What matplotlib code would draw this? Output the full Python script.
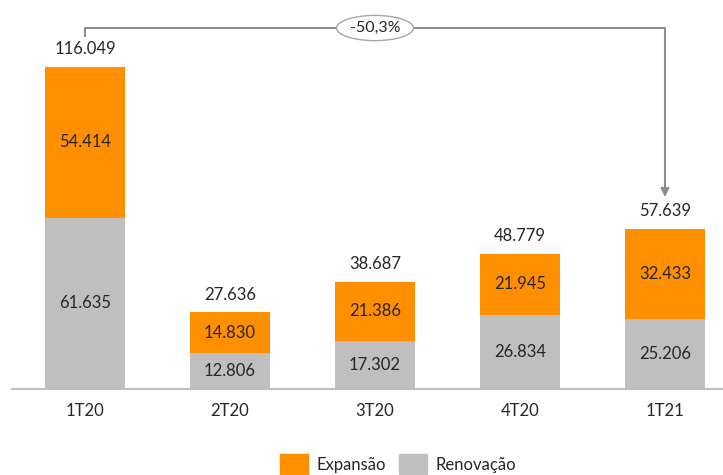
import matplotlib
matplotlib.use("Agg")
import matplotlib.pyplot as plt
from matplotlib.patches import Patch

plt.rcParams['font.family'] = ['Lato', 'DejaVu Sans']

categories = ["1T20", "2T20", "3T20", "4T20", "1T21"]
renovacao = [61.635, 12.806, 17.302, 26.834, 25.206]
expansao = [54.414, 14.830, 21.386, 21.945, 32.433]
totals = [116.049, 27.636, 38.687, 48.779, 57.639]
variation_label = "-50,3%"

orange = "#FF8F00"
gray = "#BFBFBF"
txt = "#262626"


def fmt(v):
    return f"{v:.3f}"


fig = plt.figure(figsize=(7.23, 4.75), dpi=100)
ax = fig.add_axes([12 / 723, 86 / 475, 711 / 723, 389 / 475])

x = list(range(len(categories)))
ax.bar(x, renovacao, width=0.55, color=gray)
ax.bar(x, expansao, width=0.55, bottom=renovacao, color=orange)

for i in x:
    ax.text(i, renovacao[i] / 2, fmt(renovacao[i]), ha="center", va="center",
            fontsize=12, color=txt)
    ax.text(i, renovacao[i] + expansao[i] / 2, fmt(expansao[i]), ha="center",
            va="center", fontsize=12, color=txt)
    ax.text(i, totals[i] + 3.5, fmt(totals[i]), ha="center", va="bottom",
            fontsize=12, color=txt)

ax.set_xlim(-0.503, 4.40)
ax.set_ylim(0, 140.2)
ax.set_xticks(x)
ax.set_xticklabels(categories, fontsize=12, color=txt)
ax.tick_params(axis="x", length=0, pad=10)
ax.set_yticks([])
for s in ["top", "right", "left"]:
    ax.spines[s].set_visible(False)
ax.spines["bottom"].set_color("#BFBFBF")
ax.spines["bottom"].set_linewidth(1.5)

# bracket from first to last bar
line_y = 130.1
ax.plot([0, 0, 4], [126.8, line_y, line_y], color="#8C8C8C", lw=1.5,
        solid_capstyle="butt", clip_on=False)
ax.annotate("", xy=(4, 69.2), xytext=(4, line_y),
            arrowprops=dict(arrowstyle="-|>", color="#8C8C8C", lw=1.5,
                            mutation_scale=12, shrinkA=0, shrinkB=0))
ax.text(2.0, line_y, variation_label, ha="center", va="center", fontsize=11.5,
        color=txt,
        bbox=dict(boxstyle="ellipse,pad=0.12", fc="white", ec="#A6A6A6", lw=1))

handles = [Patch(color=orange, label="Expansão"), Patch(color=gray, label="Renovação")]
fig.legend(handles=handles, loc="center", bbox_to_anchor=(398 / 723, 1 - 464 / 475),
           ncol=2, frameon=False, fontsize=12, handlelength=1.7, handleheight=1.4,
           handletextpad=0.5, columnspacing=0.8, labelcolor=txt)

fig.savefig("out.png", dpi=100)
